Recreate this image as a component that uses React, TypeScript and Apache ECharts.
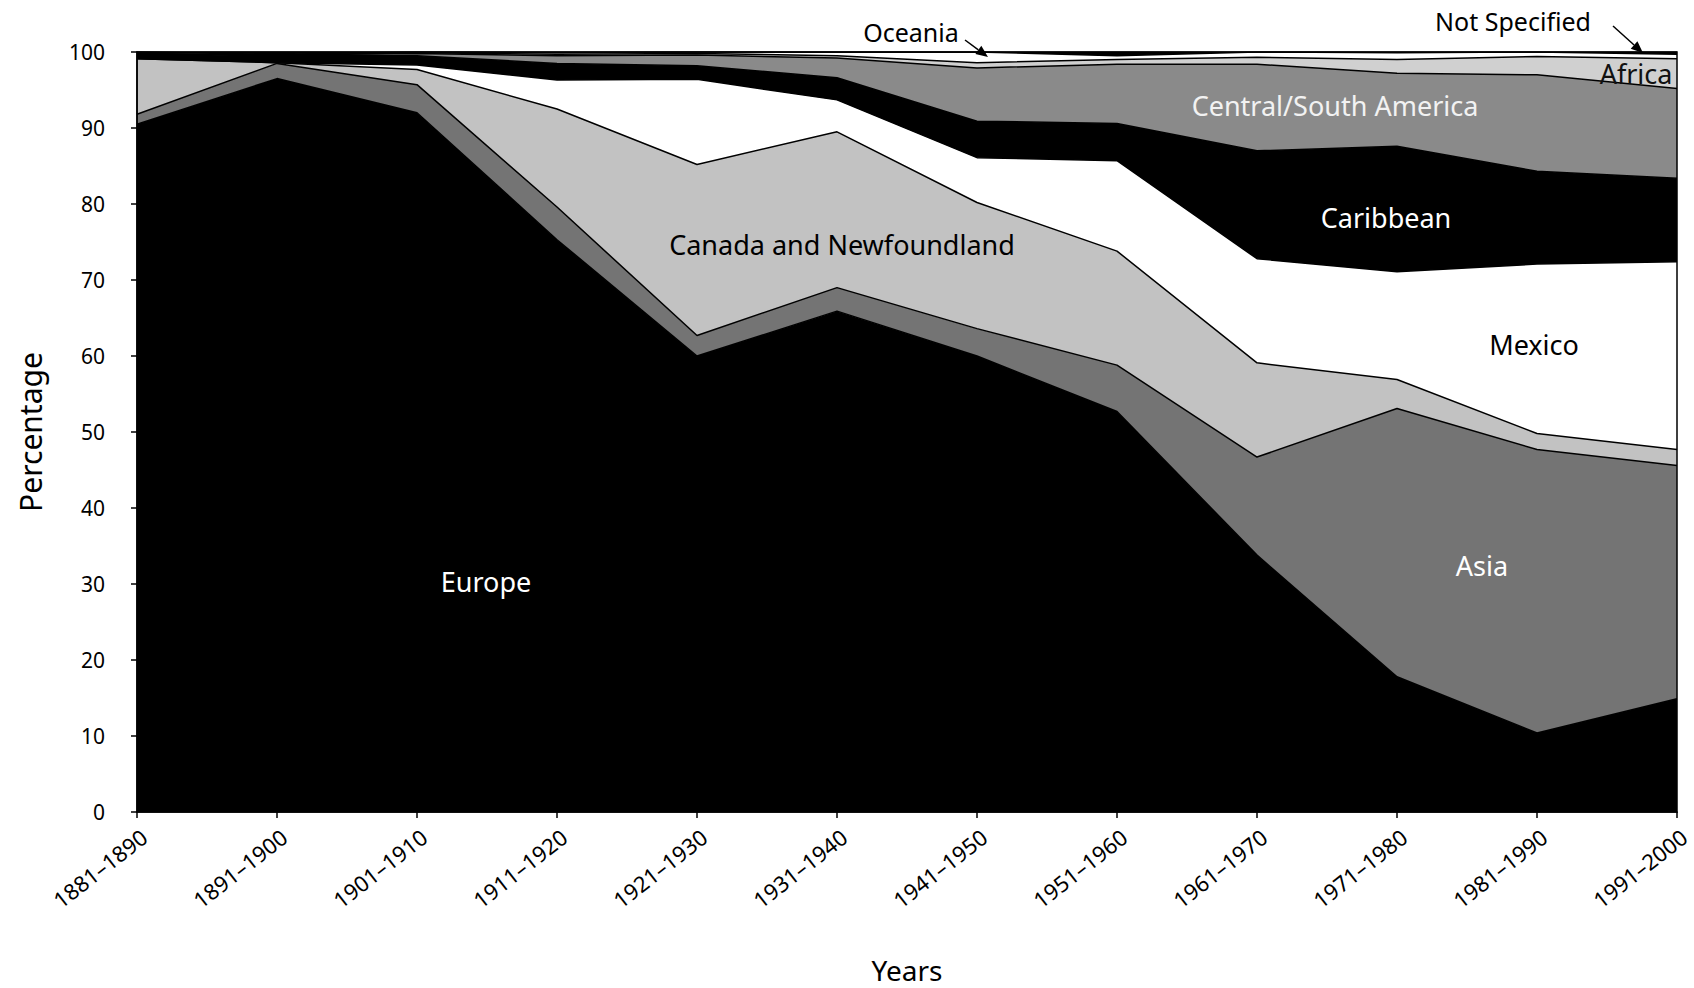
import React, { useEffect, useRef } from "react";
import * as echarts from "echarts";

const decades = [
  "1881–1890", "1891–1900", "1901–1910", "1911–1920", "1921–1930", "1931–1940",
  "1941–1950", "1951–1960", "1961–1970", "1971–1980", "1981–1990", "1991–2000",
];

const europe = [90.5, 96.5, 92.0, 75.3, 60.0, 65.9, 60.0, 52.7, 33.8, 17.8, 10.4, 14.9];
const asia = [1.3, 2.0, 3.7, 4.3, 2.7, 3.1, 3.6, 6.1, 12.9, 35.3, 37.3, 30.7];
const canada = [7.3, 0.1, 2.0, 12.9, 22.5, 20.5, 16.6, 15.0, 12.4, 3.8, 2.1, 2.1];
const mexico = [0.0, 0.0, 0.6, 3.8, 11.2, 4.2, 5.9, 11.9, 13.7, 14.2, 22.3, 24.7];
const caribbean = [0.6, 0.9, 1.2, 2.2, 1.8, 2.9, 4.8, 4.9, 14.2, 16.5, 12.2, 11.0];
const csAmerica = [0.1, 0.1, 0.3, 1.0, 1.4, 2.6, 7.0, 7.8, 11.4, 9.6, 12.7, 11.8];
const africa = [0.0, 0.0, 0.1, 0.2, 0.2, 0.3, 0.7, 0.6, 0.9, 1.8, 2.4, 3.9];
const oceania = [0.2, 0.1, 0.1, 0.2, 0.2, 0.5, 1.4, 0.5, 0.7, 0.9, 0.6, 0.6];
const notSpecified = [0.0, 0.3, 0.0, 0.1, 0.0, 0.0, 0.0, 0.5, 0.0, 0.1, 0.0, 0.3];

const yTicks = { min: 0, max: 100, interval: 10 };

const FONT = "Noto Sans";

const layers = [
  { name: "Europe", data: europe, color: "#000000" },
  { name: "Asia", data: asia, color: "#747474" },
  { name: "Canada and Newfoundland", data: canada, color: "#c2c2c2" },
  { name: "Mexico", data: mexico, color: "#ffffff" },
  { name: "Caribbean", data: caribbean, color: "#000000" },
  { name: "Central/South America", data: csAmerica, color: "#8a8a8a" },
  { name: "Africa", data: africa, color: "#d0d0d0" },
  { name: "Oceania", data: oceania, color: "#ffffff" },
  { name: "Not Specified", data: notSpecified, color: "#000000" },
];

function arrow(x1: number, y1: number, x2: number, y2: number) {
  const dx = x2 - x1;
  const dy = y2 - y1;
  const len = Math.sqrt(dx * dx + dy * dy);
  const ux = dx / len;
  const uy = dy / len;
  const head = 12;
  const half = 5;
  const bx = x2 - ux * head;
  const by = y2 - uy * head;
  return [
    {
      type: "line",
      shape: { x1, y1, x2: bx, y2: by },
      style: { stroke: "#000", lineWidth: 1.5 },
      z: 100,
    },
    {
      type: "polygon",
      shape: {
        points: [
          [x2, y2],
          [bx - uy * half, by + ux * half],
          [bx + uy * half, by - ux * half],
        ],
      },
      style: { fill: "#000" },
      z: 100,
    },
  ];
}

function label(text: string, x: number, y: number, fill: string, size = 27) {
  return {
    type: "text",
    x,
    y,
    z: 100,
    style: {
      text,
      fill,
      fontSize: size,
      fontFamily: FONT,
      align: "center",
      verticalAlign: "middle",
    },
  };
}

export default function App() {
  const ref = useRef<HTMLDivElement>(null);

  useEffect(() => {
    const chart = echarts.init(ref.current!, null, { renderer: "svg" });
    const option = {
      animation: false,
      backgroundColor: "#ffffff",
      textStyle: { fontFamily: FONT },
      grid: {
        left: 137,
        right: 17,
        top: 52,
        bottom: 176,
        containLabel: false,
        outerBoundsMode: "none",
        show: true,
        borderColor: "#000",
        borderWidth: 1.5,
        backgroundColor: "transparent",
        z: 10,
      },
      xAxis: {
        type: "category",
        data: decades,
        boundaryGap: false,
        z: 10,
        axisLine: { lineStyle: { color: "#000", width: 1.5 } },
        axisTick: { show: true, length: 6, lineStyle: { color: "#000", width: 1.5 } },
        axisLabel: {
          rotate: 38,
          interval: 0,
          fontSize: 22,
          color: "#000",
          fontFamily: FONT,
          margin: 13,
          verticalAlign: "top",
        },
        name: "Years",
        nameLocation: "middle",
        nameGap: 144,
        nameTextStyle: { fontSize: 28, color: "#000", fontFamily: FONT },
      },
      yAxis: {
        type: "value",
        min: yTicks.min,
        max: yTicks.max,
        interval: yTicks.interval,
        z: 10,
        axisLine: { show: true, lineStyle: { color: "#000", width: 1.5 } },
        axisTick: { show: true, length: 6, lineStyle: { color: "#000", width: 1.5 } },
        splitLine: { show: false },
        axisLabel: { fontSize: 21, color: "#000", fontFamily: FONT, margin: 32 },
        name: "Percentage",
        nameLocation: "middle",
        nameGap: 92,
        nameRotate: 90,
        nameTextStyle: { fontSize: 30, color: "#000", fontFamily: FONT },
      },
      series: layers.map((l) => ({
        name: l.name,
        type: "line",
        stack: "total",
        data: l.data,
        showSymbol: false,
        symbol: "none",
        lineStyle: { color: "#000", width: 1.5 },
        areaStyle: { color: l.color, opacity: 1 },
        emphasis: { disabled: true },
      })),
      graphic: [
        label("Europe", 486, 581, "#ffffff"),
        label("Canada and Newfoundland", 842, 244, "#000000"),
        label("Caribbean", 1386, 217, "#ffffff"),
        label("Mexico", 1534, 344, "#000000"),
        label("Asia", 1482, 565, "#ffffff"),
        label("Central/South America", 1335, 105, "#f2f2f2"),
        label("Africa", 1636, 73, "#111111"),
        label("Oceania", 911, 32, "#000000", 25),
        label("Not Specified", 1513, 21, "#000000", 25),
        ...arrow(965, 40, 988, 57),
        ...arrow(1613, 26, 1643, 53),
      ],
    };
    chart.setOption(option as any);
    return () => chart.dispose();
  }, []);

  return (
    <div
      ref={ref}
      style={{ position: "fixed", left: 0, top: 0, width: 1694, height: 988, background: "#fff" }}
    />
  );
}
